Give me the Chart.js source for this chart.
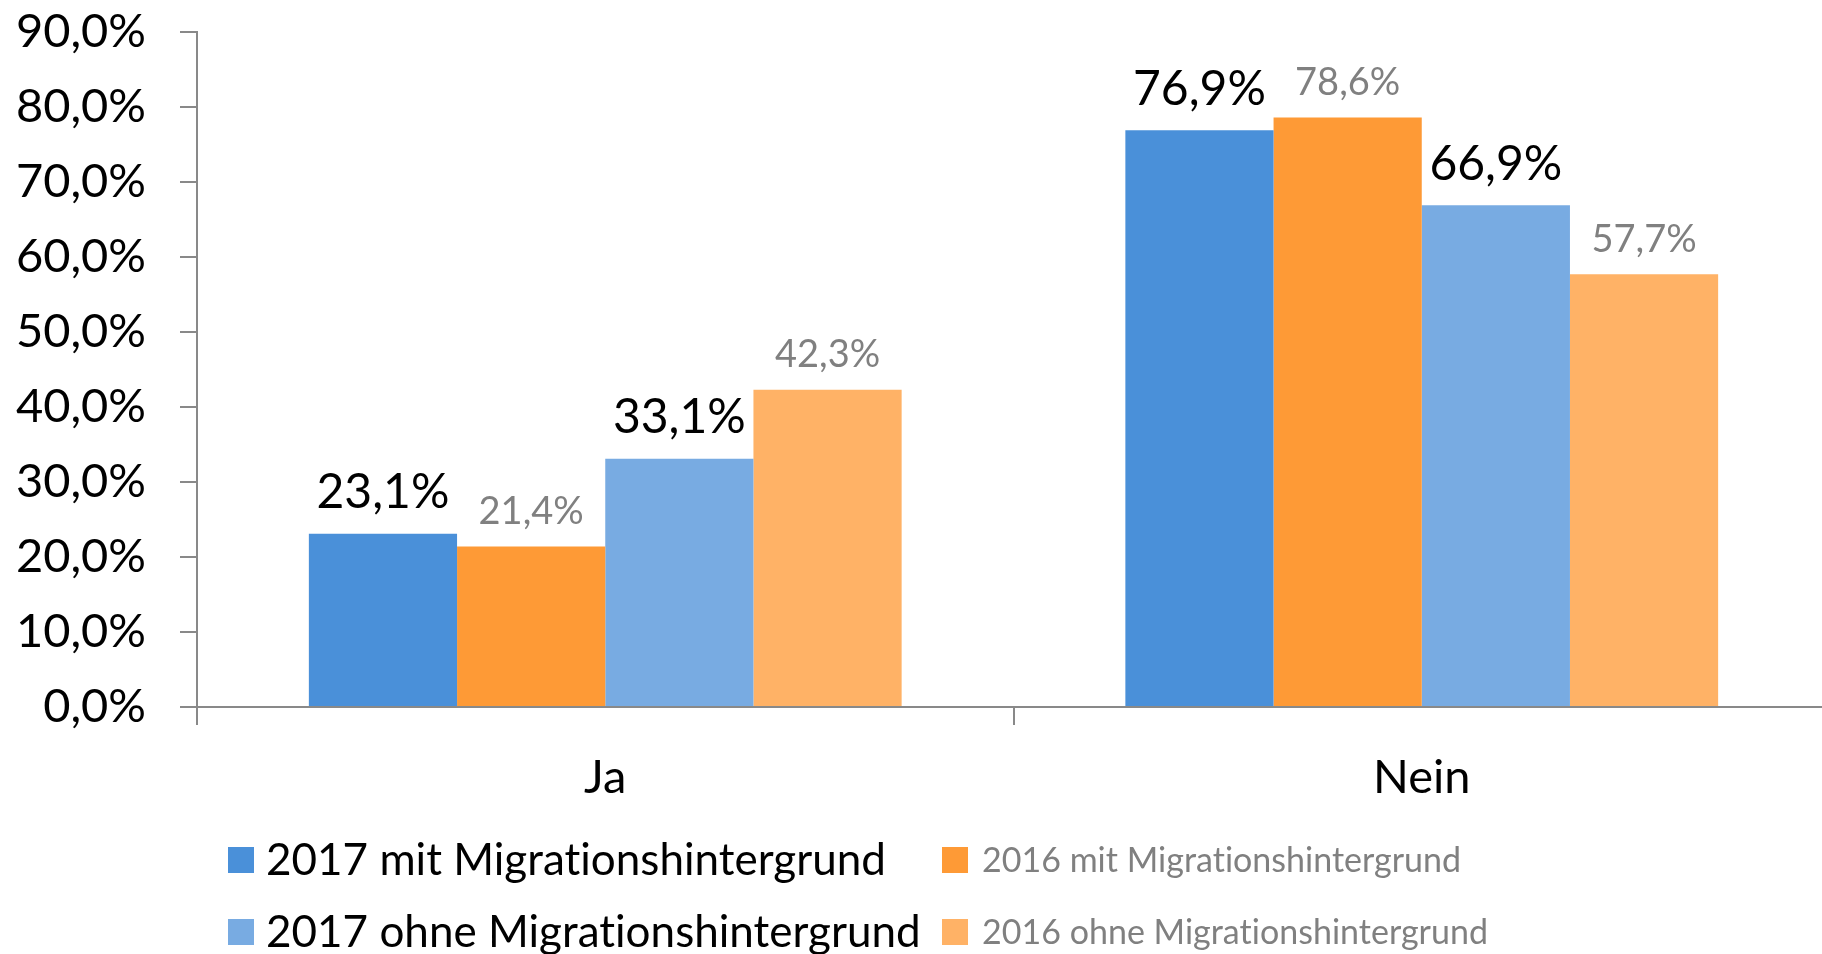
<!DOCTYPE html>
<html>
<head>
<meta charset="utf-8">
<script src="https://cdn.jsdelivr.net/npm/chart.js@4/dist/chart.umd.min.js"></script>
<style>
  html, body { margin: 0; padding: 0; background: #fff; overflow: hidden; }
  #wrap { width: 1822px; height: 954px; overflow: hidden; }
</style>
</head>
<body>
<div id="wrap"><canvas id="meuGrafico" width="1830" height="954"></canvas></div>
<script>
var categorias = ["Ja", "Nein"];
var mit2017 = [23.1, 76.9];
var mit2016 = [21.4, 78.6];
var ohne2017 = [33.1, 66.9];
var ohne2016 = [42.3, 57.7];
var serienNamen = ["2017 mit Migrationshintergrund", "2016 mit Migrationshintergrund",
                   "2017 ohne Migrationshintergrund", "2016 ohne Migrationshintergrund"];
var yMax = 90;
var yStep = 10;

var farben = ["#4a90d9", "#fe9a36", "#78abe2", "#ffb266"];
var schrift = "Lato, 'Open Sans', sans-serif";

function prozent(v) {
  return v.toFixed(1).replace(".", ",") + "%";
}

// labels above the bars: 2017 big and black, 2016 smaller and grey
var wertLabels = {
  id: "wertLabels",
  afterDatasetsDraw: function(chart) {
    var ctx = chart.ctx;
    ctx.save();
    ctx.textAlign = "center";
    ctx.textBaseline = "bottom";
    chart.data.datasets.forEach(function(ds, i) {
      var meta = chart.getDatasetMeta(i);
      var gross = (i % 2 == 0);
      ctx.font = (gross ? "48px " : "38px ") + schrift;
      ctx.fillStyle = gross ? "#000" : "#808080";
      meta.data.forEach(function(bar, j) {
        ctx.fillText(prozent(ds.data[j]), bar.x, bar.y - (gross ? 17 : 16));
      });
    });
    ctx.restore();
  }
};

// legend in two rows, like the original
var legende = {
  id: "legende",
  afterDraw: function(chart) {
    var ctx = chart.ctx;
    ctx.save();
    ctx.textBaseline = "middle";
    if ("letterSpacing" in ctx) ctx.letterSpacing = "0.01px"; // no "ti" ligature
    var spalteBox = [228, 942];
    var spalteText = [266, 982];
    var zeileY = [860, 932];
    chart.data.datasets.forEach(function(ds, i) {
      var sp = i % 2;
      var ze = Math.floor(i / 2);
      ctx.fillStyle = ds.backgroundColor;
      ctx.fillRect(spalteBox[sp], zeileY[ze] - 13, 26, 26);
      ctx.font = (sp == 0 ? "44px " : "34px ") + schrift;
      ctx.fillStyle = sp == 0 ? "#000" : "#808080";
      ctx.fillText(ds.label, spalteText[sp], zeileY[ze] + 1);
    });
    ctx.restore();
  }
};

new Chart("meuGrafico", {
  type: "bar",
  data: {
    labels: categorias,
    datasets: [
      { label: serienNamen[0], data: mit2017, backgroundColor: farben[0] },
      { label: serienNamen[1], data: mit2016, backgroundColor: farben[1] },
      { label: serienNamen[2], data: ohne2017, backgroundColor: farben[2] },
      { label: serienNamen[3], data: ohne2016, backgroundColor: farben[3] }
    ]
  },
  options: {
    responsive: false,
    animation: false,
    layout: { padding: { top: 32, right: 0, left: 0, bottom: 0 } },
    datasets: { bar: { categoryPercentage: 0.726, barPercentage: 1.0, borderWidth: 0 } },
    plugins: {
      legend: { display: false },
      tooltip: { enabled: false }
    },
    scales: {
      x: {
        grid: { offset: true, drawOnChartArea: false, tickLength: 18, color: "#898989", lineWidth: 2 },
        border: { color: "#898989", width: 2 },
        ticks: { color: "#000", font: { family: schrift, size: 47 }, padding: 25 },
        afterFit: function(s) { s.height = 247; s.paddingLeft = 0; s.paddingRight = 0; }
      },
      y: {
        min: 0,
        max: yMax,
        ticks: {
          stepSize: yStep,
          color: "#000",
          font: { family: schrift, size: 47 },
          padding: 34,
          callback: function(v) { return prozent(v); }
        },
        grid: { drawOnChartArea: false, tickLength: 17, color: "#898989", lineWidth: 2 },
        border: { color: "#898989", width: 2 },
        afterFit: function(s) { s.width = 197; s.paddingTop = 0; s.paddingBottom = 0; }
      }
    }
  },
  plugins: [wertLabels, legende]
});
</script>
</body>
</html>
